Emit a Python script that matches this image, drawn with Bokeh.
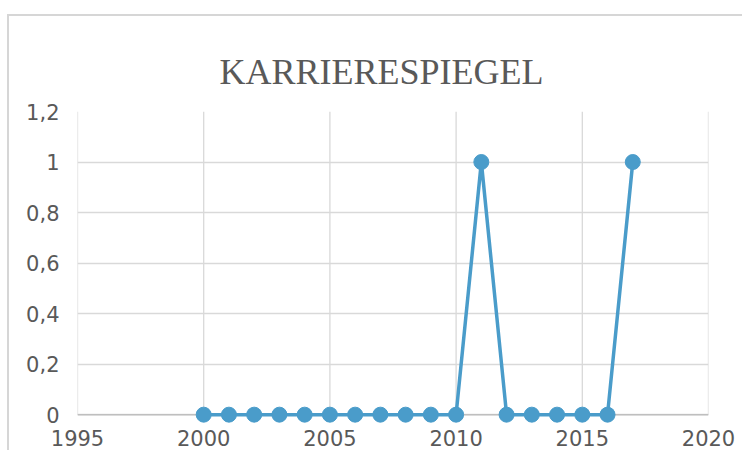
from bokeh.plotting import figure
from bokeh.models import FixedTicker, CustomJSTickFormatter, Range1d
from bokeh.embed import file_html
from bokeh.resources import INLINE

title_text = "KARRIERESPIEGEL"
years = [2000, 2001, 2002, 2003, 2004, 2005, 2006, 2007, 2008, 2009, 2010,
         2011, 2012, 2013, 2014, 2015, 2016, 2017]
values = [0, 0, 0, 0, 0, 0, 0, 0, 0, 0, 0,
          1, 0, 0, 0, 0, 0, 1]
x_ticks = [1995, 2000, 2005, 2010, 2015, 2020]
y_ticks = [0, 0.2, 0.4, 0.6, 0.8, 1.0, 1.2]

GRID = "#d9d9d9"
AXIS = "#bfbfbf"
TEXT = "#595959"
BLUE = "#4a9cca"

p = figure(width=742, height=450, output_backend="svg", toolbar_location=None,
           x_range=Range1d(x_ticks[0], x_ticks[-1]),
           y_range=Range1d(-0.035, y_ticks[-1]),
           min_border_left=77, min_border_right=34,
           min_border_top=111, min_border_bottom=27)
p.styles = {
    "background-image": "linear-gradient(#d6d6d6,#d6d6d6), linear-gradient(#d6d6d6,#d6d6d6)",
    "background-size": "100% 2px, 2px 100%",
    "background-position": "7px 14px, 7px 14px",
    "background-repeat": "no-repeat",
}
p.outline_line_color = None
p.background_fill_color = "white"
p.border_fill_color = None

p.title.text = title_text
p.title.align = "left"
p.title.vertical_align = "top"
p.title.offset = 142
p.title.standoff = 35
p.title.text_font = "Liberation Serif"
p.title.text_font_size = "36px"
p.title.text_font_style = "normal"
p.title.text_color = TEXT

# grid
p.xgrid.visible = False
p.ygrid.ticker = FixedTicker(ticks=y_ticks)
p.ygrid.grid_line_color = GRID
p.ygrid.grid_line_width = 1.3
p.segment(x0=x_ticks, x1=x_ticks, y0=[y_ticks[0]] * len(x_ticks),
          y1=[y_ticks[-1]] * len(x_ticks), line_color=GRID, line_width=1.3)
p.segment(x0=[x_ticks[0]], x1=[x_ticks[-1]], y0=[0], y1=[0],
          line_color=AXIS, line_width=1.5)

# data
p.line(years, values, line_color=BLUE, line_width=3.5)
p.scatter(years, values, size=15, fill_color=BLUE, line_color=BLUE)

# axes
p.xaxis.ticker = FixedTicker(ticks=x_ticks)
p.yaxis.ticker = FixedTicker(ticks=y_ticks)
p.yaxis.formatter = CustomJSTickFormatter(
    code="return (Math.round(tick*10)/10).toString().replace('.', ',');")
for ax in (p.xaxis[0], p.yaxis[0]):
    ax.axis_line_color = None
    ax.major_tick_line_color = None
    ax.minor_tick_line_color = None
    ax.major_label_text_font = "DejaVu Sans"
    ax.major_label_text_font_size = "21px"
    ax.major_label_text_color = TEXT
p.xaxis.major_label_standoff = 0
p.yaxis.major_label_standoff = 12

open("out.html", "w").write(file_html(p, INLINE))
